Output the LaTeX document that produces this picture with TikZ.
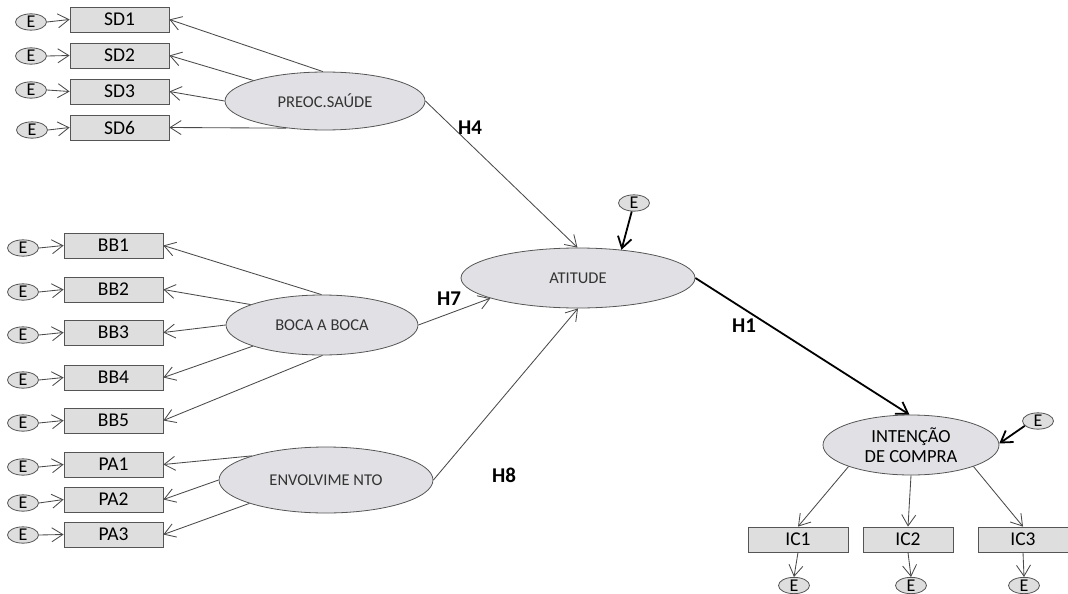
\documentclass[tikz,border=0pt]{standalone}
\usepackage{fontspec}
\setmainfont{Carlito}
\usetikzlibrary{shapes.geometric,arrows.meta}

\definecolor{boxfill}{HTML}{DEDEDE}
\definecolor{latfill}{HTML}{E1E1E5}
\definecolor{edgegray}{HTML}{555555}
\definecolor{linegray}{HTML}{4A4A4A}
\definecolor{labgray}{HTML}{333333}

\tikzset{
  ind/.style={rectangle, draw=edgegray, fill=boxfill, line width=0.8pt,
    minimum width=99pt, minimum height=25pt, inner sep=0pt,
    font=\fontsize{19.5}{19.5}\selectfont},
  lat/.style={ellipse, draw=edgegray, fill=latfill, line width=0.8pt,
    inner sep=0pt, text=labgray, font=\fontsize{16.5}{16.5}\selectfont},
  err/.style={ellipse, draw=edgegray, fill=boxfill, line width=0.8pt,
    minimum width=31pt, minimum height=16pt, inner sep=0pt,
    font=\fontsize{18}{18}\selectfont},
  load/.style={draw=linegray, line width=0.85pt,
    -{Straight Barb[length=11pt,width=14pt,line width=0.85pt]}},
  strong/.style={draw=black, line width=1.8pt,
    -{Straight Barb[length=11pt,width=14pt,line width=1.8pt]}},
  hyp/.style={font=\bfseries\fontsize{21}{21}\selectfont}
}

\begin{document}
\begin{tikzpicture}[x=1pt, y=-1pt]
\useasboundingbox (0,0) rectangle (1068,594);

% latent constructs
\node[lat, minimum width=200pt, minimum height=58pt] (pre) at (325,101) {PREOC.SAÚDE};
\node[lat, minimum width=192pt, minimum height=60pt] (boca) at (322,325) {BOCA A BOCA};
\node[lat, minimum width=214pt, minimum height=66pt] (env) at (326,480) {ENVOLVIME NTO};
\node[lat, minimum width=234pt, minimum height=60pt] (att) at (578,278) {ATITUDE};
\node[lat, minimum width=176pt, minimum height=60pt, text=black,
      font=\fontsize{18.5}{20}\selectfont, align=center] (int) at (911,445) {INTENÇÃO\\DE COMPRA};

% indicators
\node[ind] (sd1) at (119.5,19.5) {SD1};
\node[ind] (sd2) at (119.5,55.5) {SD2};
\node[ind] (sd3) at (119.5,91.5) {SD3};
\node[ind] (sd6) at (119.5,127.5) {SD6};

\node[ind] (bb1) at (113.5,245.5) {BB1};
\node[ind] (bb2) at (113.5,289.5) {BB2};
\node[ind] (bb3) at (113.5,332.5) {BB3};
\node[ind] (bb4) at (113.5,377.5) {BB4};
\node[ind] (bb5) at (113.5,420.5) {BB5};

\node[ind] (pa1) at (113.5,464.5) {PA1};
\node[ind] (pa2) at (113.5,499.5) {PA2};
\node[ind] (pa3) at (113.5,534.5) {PA3};

\node[ind, minimum width=100pt] (ic1) at (798,539.5) {IC1};
\node[ind, minimum width=90pt] (ic2) at (908,539.5) {IC2};
\node[ind, minimum width=90pt] (ic3) at (1023,539.5) {IC3};

% error terms
\node[err] (esd1) at (31,22) {E};
\node[err] (esd2) at (31,56) {E};
\node[err] (esd3) at (31,90) {E};
\node[err] (esd6) at (32,130) {E};

\node[err] (ebb1) at (23,248) {E};
\node[err] (ebb2) at (23,292) {E};
\node[err] (ebb3) at (23,335) {E};
\node[err] (ebb4) at (23,380) {E};
\node[err] (ebb5) at (23,423) {E};

\node[err] (epa1) at (23,467) {E};
\node[err] (epa2) at (23,503) {E};
\node[err] (epa3) at (23,535) {E};

\node[err] (eatt) at (634,203) {E};
\node[err] (eint) at (1038,421) {E};
\node[err] (eic1) at (794,585.5) {E};
\node[err] (eic2) at (911,585.5) {E};
\node[err] (eic3) at (1024,585.5) {E};

% errors to indicators
\foreach \e/\i in {esd1/sd1, esd2/sd2, esd3/sd3, esd6/sd6,
                   ebb1/bb1, ebb2/bb2, ebb3/bb3, ebb4/bb4, ebb5/bb5,
                   epa1/pa1, epa2/pa2, epa3/pa3}
  \draw[load] (\e.east) -- (\i.west);
\draw[load] (ic1.south) -- (eic1.north);
\draw[load] (ic2.south) -- (eic2.north);
\draw[load] (ic3.south) -- (eic3.north);

% loadings
\draw[load] (pre.94) -- (sd1.east);
\draw[load] (pre.164) -- (sd2.east);
\draw[load] (pre.180) -- (sd3.east);
\draw[load] (pre.215) -- (sd6.east);

\draw[load] (boca.91) -- (bb1.east);
\draw[load] (boca.164) -- (bb2.east);
\draw[load] (boca.180) -- (bb3.east);
\draw[load] (boca.197) -- (bb4.east);
\draw[load] (boca.271) -- (bb5.east);

\draw[load] (env.162) -- (pa1.east);
\draw[load] (env.180) -- (pa2.east);
\draw[load] (env.197) -- (pa3.east);

\draw[load] (int.199) -- (ic1.north);
\draw[load] (int.270) -- (ic2.north);
\draw[load] (int.341) -- (ic3.north);

% structural paths
\draw[load] (pre.0) -- (att.91);
\draw[load] (boca.0) -- (att.193);
\draw[load] (env.0) -- (att.270);
\draw[strong] (att.0) -- (int.93);
\draw[strong] (eatt.255) -- (att.33);
\draw[strong] (eint.200) -- (int.1);

% hypothesis labels
\node[hyp] (h4) at (470,127.5) {H4};
\node[hyp] (h7) at (449,298.5) {H7};
\node[hyp] (h1) at (744,326) {H1};
\node[hyp] (h8) at (504,475) {H8};
\end{tikzpicture}
\end{document}
